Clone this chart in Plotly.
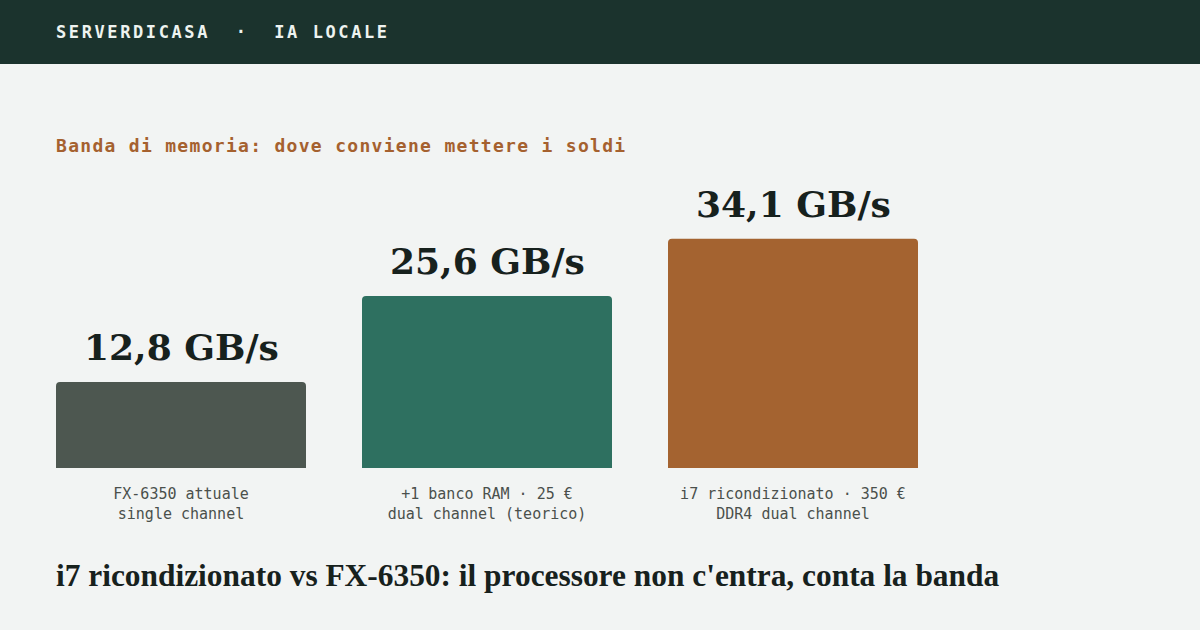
import plotly.graph_objects as go

# ---- data ----
categories = ["FX-6350", "+1 banco RAM", "i7 ricondizionato"]
bandwidth_gbs = [12.8, 25.6, 34.1]
value_labels = ["12,8 GB/s", "25,6 GB/s", "34,1 GB/s"]
tick_line1 = ["FX-6350 attuale", "+1 banco RAM · 25 €", "i7 ricondizionato · 350 €"]
tick_line2 = ["single channel", "dual channel (teorico)", "DDR4 dual channel"]
bar_colors = ["#4d5750", "#2e7060", "#a46330"]

header_text = "SERVERDICASA  ·  IA LOCALE"
subtitle_text = "Banda di memoria: dove conviene mettere i soldi"
footer_title = "i7 ricondizionato vs FX-6350: il processore non c'entra, conta la banda"

# ---- layout geometry (pixels) ----
W, H = 1200, 630
L, R = 56, 56
T, B = 160, 162
plot_w = W - L - R
plot_h = H - T - B
px_per_cat = 306
bar_px = 250
px_per_unit = 6.72

x0 = -(bar_px / 2) / px_per_cat
x_range = [x0, x0 + plot_w / px_per_cat]
y_range = [0, plot_h / px_per_unit]

def py(ypix):
    """convert pixel y (from top) to paper coordinate"""
    return (H - B - ypix) / plot_h

def px(xpix):
    return (xpix - L) / plot_w

MONO = "DejaVu Sans Mono"
SERIF = "Liberation Serif"
HEAVY_SERIF = "DejaVu Serif"

fig = go.Figure()
fig.add_trace(go.Bar(
    x=categories,
    y=bandwidth_gbs,
    width=bar_px / px_per_cat,
    marker=dict(color=bar_colors, cornerradius=4, line=dict(width=0)),
    hoverinfo="skip",
))

annotations = []
for c, v, lab in zip(categories, bandwidth_gbs, value_labels):
    annotations.append(dict(
        x=c, y=v, xref="x", yref="y", text=f"<b>{lab}</b>", showarrow=False,
        xanchor="center", yanchor="bottom", yshift=12,
        font=dict(family=HEAVY_SERIF, size=36, color="#17211d"),
    ))

annotations.append(dict(
    x=px(54), y=py(32), xref="paper", yref="paper", xanchor="left", yanchor="middle",
    text=f"<b><span style='letter-spacing:2.6px'>{header_text}</span></b>", showarrow=False,
    font=dict(family=MONO, size=17, color="#eef3f0"),
))
annotations.append(dict(
    x=px(54), y=py(145), xref="paper", yref="paper", xanchor="left", yanchor="middle",
    text=f"<b><span style='letter-spacing:1.3px'>{subtitle_text}</span></b>", showarrow=False,
    font=dict(family=MONO, size=18, color="#a5612f"),
))
annotations.append(dict(
    x=px(54), y=py(575), xref="paper", yref="paper", xanchor="left", yanchor="middle",
    text=f"<b>{footer_title}</b>", showarrow=False,
    font=dict(family=SERIF, size=31.4, color="#17211d"),
))

fig.update_layout(
    width=W, height=H,
    margin=dict(l=L, r=R, t=T, b=B, pad=0),
    paper_bgcolor="#f2f4f3", plot_bgcolor="#f2f4f3",
    showlegend=False,
    annotations=annotations,
    shapes=[dict(type="rect", xref="paper", yref="paper",
                 x0=px(0), x1=px(W), y0=py(64), y1=py(0),
                 fillcolor="#1b332d", line=dict(width=0), layer="below")],
    xaxis=dict(range=x_range, showgrid=False, zeroline=False, showline=False,
               ticks="", tickmode="array", tickvals=categories,
               ticktext=[f"{a}<br>{b}" for a, b in zip(tick_line1, tick_line2)],
               tickfont=dict(family=MONO, size=15, color="#4a504c"),
               ticklabelstandoff=15, fixedrange=True),
    yaxis=dict(range=y_range, visible=False, showgrid=False, zeroline=False, fixedrange=True),
)

fig.write_html(
    "out.html",
    config={"displayModeBar": False},
    post_script="document.body.style.margin='0';document.body.style.background='#f2f4f3';",
)
